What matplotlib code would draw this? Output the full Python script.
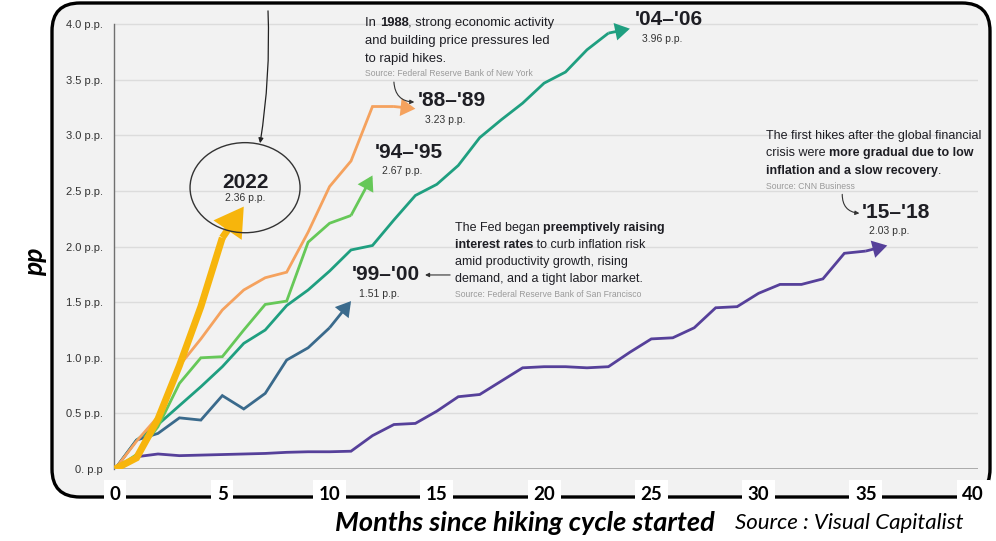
import matplotlib.pyplot as plt
from matplotlib.patches import Ellipse, FancyBboxPatch

#======================================================================
#                          Data
#======================================================================
m_2022 = [0, 1, 2, 3, 4, 5, 6]
pp_2022 = [0, 0.10, 0.45, 0.93, 1.46, 2.08, 2.36]

m_8889 = [0, 1, 2, 3, 4, 5, 6, 7, 8, 9, 10, 11, 12, 13, 14]
pp_8889 = [0, 0.25, 0.47, 0.93, 1.17, 1.43, 1.61, 1.72, 1.77, 2.13, 2.54,
           2.77, 3.26, 3.26, 3.24]

m_9495 = [0, 1, 2, 3, 4, 5, 6, 7, 8, 9, 10, 11, 12]
pp_9495 = [0, 0.13, 0.38, 0.77, 1.00, 1.01, 1.25, 1.48, 1.51, 2.04, 2.21,
           2.28, 2.64]

m_0406 = list(range(25))
pp_0406 = [0, 0.26, 0.40, 0.57, 0.74, 0.92, 1.13, 1.25, 1.47, 1.61, 1.78,
           1.97, 2.01, 2.24, 2.46, 2.56, 2.73, 2.98, 3.14, 3.29, 3.47, 3.57,
           3.77, 3.92, 3.96]

m_9900 = [0, 1, 2, 3, 4, 5, 6, 7, 8, 9, 10, 11]
pp_9900 = [0, 0.26, 0.32, 0.46, 0.44, 0.66, 0.54, 0.68, 0.98, 1.09, 1.27, 1.51]

m_1518 = list(range(37))
pp_1518 = [0, 0.11, 0.135, 0.12, 0.125, 0.13, 0.135, 0.14, 0.15, 0.155, 0.155,
           0.16, 0.30, 0.40, 0.41, 0.52, 0.65, 0.67, 0.79, 0.91, 0.92, 0.92,
           0.91, 0.92, 1.05, 1.17, 1.18, 1.27, 1.45, 1.46, 1.58, 1.66, 1.66,
           1.71, 1.94, 1.96, 2.01]

x_ticks = [0, 5, 10, 15, 20, 25, 30, 35, 40]
y_ticks = [0, 0.5, 1.0, 1.5, 2.0, 2.5, 3.0, 3.5, 4.0]
y_labels = ['0. p.p', '0.5 p.p.', '1.0 p.p.', '1.5 p.p.', '2.0 p.p.',
            '2.5 p.p.', '3.0 p.p.', '3.5 p.p.', '4.0 p.p.']

FONT = 'Liberation Sans'
DARK = '#1e1e24'
GREY = '#9a9a9a'

#======================================================================
#                          Figure + frame
#======================================================================
fig = plt.figure(figsize=(9.96, 5.41), dpi=100)
frame = FancyBboxPatch((0.52, 0.44), 9.38, 4.94,
                       boxstyle='round,pad=0,rounding_size=0.28',
                       transform=fig.dpi_scale_trans, facecolor='#f2f2f2',
                       edgecolor='black', linewidth=2.4, zorder=-5)
fig.patches.append(frame)

ax = fig.add_axes([114 / 996, 1 - 469 / 541, (978 - 114) / 996, (469 - 12) / 541])
ax.set_facecolor('none')
ax.set_xlim(-0.05, 40.23)
ax.set_ylim(0, 4.11)

for s in ['top', 'right', 'bottom']:
    ax.spines[s].set_visible(False)
ax.spines['left'].set_color('#707070')
ax.spines['left'].set_linewidth(1.0)
ax.spines['left'].set_bounds(0, 4.0)

ax.set_yticks(y_ticks)
ax.set_yticklabels(y_labels, fontsize=8, color='#333333', family=FONT)
ax.tick_params(axis='y', length=0, pad=8)
ax.set_xticks(x_ticks)
ax.set_xticklabels([str(t) for t in x_ticks], fontsize=13.5, fontweight='bold',
                   family='Lato')
ax.tick_params(axis='x', length=0, pad=12)
for lab in ax.get_xticklabels():
    lab.set_bbox(dict(facecolor='white', edgecolor='none', pad=4))
ax.yaxis.grid(True, color='#dcdcdc', linewidth=1)
ax.set_axisbelow(True)
ax.axhline(0, color='#a0a0a0', linewidth=1.2, zorder=1)


#======================================================================
#                          Lines with arrow heads
#======================================================================
def cycle(xs, ys, color, lw, head, z):
    ax.plot(xs[:-1], ys[:-1], color=color, linewidth=lw, zorder=z,
            solid_joinstyle='miter', solid_capstyle='butt')
    ax.annotate('', xy=(xs[-1], ys[-1]), xytext=(xs[-2], ys[-2]),
                arrowprops=dict(arrowstyle='-|>,head_length=0.55,head_width=0.33',
                                color=color, lw=lw, joinstyle='miter',
                                capstyle='butt', mutation_scale=head,
                                shrinkA=0, shrinkB=0),
                zorder=z)


cycle(m_1518, pp_1518, '#56409a', 2.0, 14, 3)
cycle(m_0406, pp_0406, '#1f9f80', 2.0, 14, 4)
cycle(m_9900, pp_9900, '#3a6a8c', 2.0, 14, 5)
cycle(m_9495, pp_9495, '#66c858', 2.0, 14, 6)
cycle(m_8889, pp_8889, '#f5a25e', 2.0, 14, 7)
cycle(m_2022, pp_2022, '#f7b50c', 5.0, 24, 8)


#======================================================================
#                          Annotations
#======================================================================
def rich_line(x, y, parts, size, color=DARK):
    t = None
    for txt, bold in parts:
        w = 'bold' if bold else 'normal'
        if t is None:
            t = ax.text(x, y, txt, fontsize=size, fontweight=w, color=color,
                        family=FONT, va='center', ha='left', zorder=10)
        else:
            t = ax.annotate(txt, xy=(1, 0), xycoords=t, fontsize=size,
                            fontweight=w, color=color, family=FONT,
                            va='bottom', ha='left', zorder=10)


def label(x, y, name, value):
    ax.text(x, y, name, fontsize=15, fontweight='bold', color=DARK,
            family=FONT, va='center', ha='left', zorder=10)
    ax.text(x + 0.33, y - 0.17, value, fontsize=7.5, color='#333333',
            family=FONT, va='center', ha='left', zorder=10)


# 2022 bubble
ax.add_patch(Ellipse((6.06, 2.53), 5.13, 0.81, facecolor='none',
                     edgecolor='#333333', linewidth=1.0, zorder=9))
ax.text(6.06, 2.58, '2022', fontsize=15, fontweight='bold', color=DARK,
        family=FONT, ha='center', va='center', zorder=10)
ax.text(6.06, 2.44, '2.36 p.p.', fontsize=7.5, color='#333333', family=FONT,
        ha='center', va='center', zorder=10)
ax.annotate('', xy=(6.76, 2.93), xytext=(7.13, 4.12),
            arrowprops=dict(arrowstyle='-|>', color='#222222', lw=0.9,
                            mutation_scale=7, shrinkA=0, shrinkB=0,
                            connectionstyle='arc3,rad=-0.05'),
            annotation_clip=False, zorder=10)

# 1988 note
rich_line(11.66, 4.01, [('In ', False), ('1988', True),
                        (', strong economic activity', False)], 9.4)
rich_line(11.66, 3.85, [('and building price pressures led', False)], 9.4)
rich_line(11.66, 3.69, [('to rapid hikes.', False)], 9.4)
ax.text(11.66, 3.56, 'Source: Federal Reserve Bank of New York', fontsize=6.2,
        color=GREY, family=FONT, va='center', zorder=10)
ax.annotate('', xy=(13.95, 3.30), xytext=(13.0, 3.48),
            arrowprops=dict(arrowstyle='-|>', color='#333333', lw=0.8,
                            mutation_scale=6, shrinkA=0, shrinkB=0,
                            connectionstyle='arc3,rad=0.45'), zorder=10)
label(14.13, 3.31, "'88–'89", '3.23 p.p.')

label(12.12, 2.85, "'94–'95", '2.67 p.p.')
label(24.24, 4.04, "'04–'06", '3.96 p.p.')
label(11.05, 1.745, "'99–'00", '1.51 p.p.')
ax.annotate('', xy=(14.45, 1.745), xytext=(15.62, 1.745),
            arrowprops=dict(arrowstyle='-|>', color='#333333', lw=0.8,
                            mutation_scale=6, shrinkA=0, shrinkB=0), zorder=10)

# 1999 note
rich_line(15.85, 2.167, [('The Fed began ', False),
                         ('preemptively raising', True)], 9)
rich_line(15.85, 2.014, [('interest rates', True),
                         (' to curb inflation risk', False)], 9)
rich_line(15.85, 1.861, [('amid productivity growth, rising', False)], 9)
rich_line(15.85, 1.708, [('demand, and a tight labor market.', False)], 9)
ax.text(15.85, 1.565, 'Source: Federal Reserve Bank of San Francisco',
        fontsize=6.2, color=GREY, family=FONT, va='center', zorder=10)

# 2015 note
rich_line(30.35, 2.995, [('The first hikes after the global financial', False)], 9)
rich_line(30.35, 2.838, [('crisis were ', False),
                         ('more gradual due to low', True)], 9)
rich_line(30.35, 2.681, [('inflation and a slow recovery', True), ('.', False)], 9)
ax.text(30.35, 2.545, 'Source: CNN Business', fontsize=6.2, color=GREY,
        family=FONT, va='center', zorder=10)
ax.annotate('', xy=(34.7, 2.30), xytext=(33.9, 2.47),
            arrowprops=dict(arrowstyle='-|>', color='#333333', lw=0.8,
                            mutation_scale=6, shrinkA=0, shrinkB=0,
                            connectionstyle='arc3,rad=0.45'), zorder=10)
label(34.83, 2.31, "'15–'18", '2.03 p.p.')

#======================================================================
#                          Axis titles
#======================================================================
fig.text(35 / 996, 1 - 262 / 541, 'pp', rotation=90, fontsize=19,
         fontweight='bold', fontstyle='italic', family='Lato',
         ha='center', va='center')
fig.text(715 / 996, 1 - 523 / 541, 'Months since hiking cycle started',
         fontsize=19.5, fontweight='bold', fontstyle='italic', family='Lato',
         ha='right', va='center')
fig.text(735 / 996, 1 - 523 / 541, 'Source : Visual Capitalist', fontsize=16,
         fontstyle='italic', family='Lato', ha='left', va='center')

plt.savefig('out.png', dpi=100, facecolor='white')
